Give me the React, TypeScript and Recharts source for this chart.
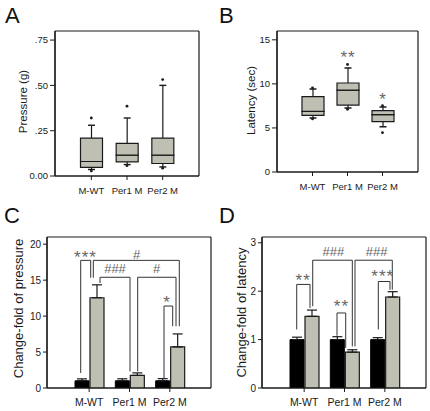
import React from 'react';
import {
  ComposedChart,
  Bar,
  Line,
  XAxis,
  YAxis,
  Scatter,
  ErrorBar,
  ReferenceDot,
  CartesianGrid,
} from 'recharts';

const FONT = '"Liberation Sans", Arial, Helvetica, sans-serif';
const INK = '#1a1a1a';
const GRAY = '#bfc0b3';
const ANNOT = '#666666';
const BRACKET = '#333333';

// ---------- shared categories ----------
const groups = ['M-WT', 'Per1 M', 'Per2 M'];

// ---------- Panel A: pressure box plot ----------
const pressureLowWhisker = [0.036, 0.063, 0.05];
const pressureQ1 = [0.048, 0.078, 0.069];
const pressureMedian = [0.08, 0.115, 0.115];
const pressureQ3 = [0.209, 0.18, 0.209];
const pressureHighWhisker = [0.28, 0.32, 0.5];
const pressureOutliers = [
  [0.32, 0.028],
  [0.385, 0.057],
  [0.532, 0.043],
];
const pressureTicks = [0, 0.25, 0.5, 0.75];

// ---------- Panel B: latency box plot ----------
const latencyLowWhisker = [6.13, 7.26, 5.14];
const latencyQ1 = [6.43, 7.6, 5.71];
const latencyMedian = [6.88, 9.3, 6.5];
const latencyQ3 = [8.55, 10.1, 6.96];
const latencyHighWhisker = [9.42, 11.8, 7.38];
const latencyOutliers = [
  [9.55, 6.02],
  [12.2, 7.12],
  [7.52, 4.46],
];
const latencyTicks = [0, 5, 10, 15];
const latencyStarGroups = ['Per1 M', 'Per2 M'];
const latencyStarHeights = [13.5, 8.7];
const latencyStarLabels = ['**', '*'];

// ---------- Panel C: change-fold of pressure ----------
const pressureFoldCtrl = [1.0, 1.0, 1.0];
const pressureFoldCtrlErr = [0.27, 0.28, 0.3];
const pressureFoldMut = [12.55, 1.75, 5.72];
const pressureFoldMutErr = [1.8, 0.35, 1.8];
const pressureFoldTicks = [0, 5, 10, 15, 20];

// significance brackets: x in group units (0..3), y in data units
const pressureBracketLabels = ['***', '#', '###', '#', '*'];
const pressureBracketX1 = [0.29, 0.603, 0.769, 1.703, 2.356];
const pressureBracketY1 = [2.09, 15.34, 14.6, 2.3, 1.39];
const pressureBracketX2 = [0.538, 2.735, 1.513, 2.653, 2.571];
const pressureBracketY2 = [15.34, 8.59, 2.3, 8.59, 8.59];
const pressureBracketTop = [17.75, 17.75, 15.4, 15.4, 11.4];
const pressureBracketLabelX = [0.397, 1.679, 1.141, 2.175, 2.422];
const pressureBracketLabelY = [18.7, 18.6, 16.6, 16.6, 12.55];

// ---------- Panel D: change-fold of latency ----------
const latencyFoldCtrl = [1.0, 1.0, 1.0];
const latencyFoldCtrlErr = [0.05, 0.06, 0.04];
const latencyFoldMut = [1.48, 0.74, 1.88];
const latencyFoldMutErr = [0.13, 0.05, 0.11];
const latencyFoldTicks = [0, 1, 2, 3];

const latencyBracketLabels = ['**', '###', '**', '###', '***'];
const latencyBracketX1 = [0.315, 0.712, 1.314, 1.76, 2.338];
const latencyBracketY1 = [1.21, 1.69, 1.08, 0.86, 1.21];
const latencyBracketX2 = [0.645, 1.694, 1.53, 2.685, 2.628];
const latencyBracketY2 = [1.655, 0.86, 0.83, 2.03, 2.03];
const latencyBracketTop = [2.14, 2.64, 1.55, 2.64, 2.2];
const latencyBracketLabelX = [0.464, 1.222, 1.413, 2.299, 2.437];
const latencyBracketLabelY = [2.32, 2.83, 1.77, 2.83, 2.39];

// extent of the group-unit axis used for the brackets
const groupUnitExtent = [0, 3];

// ---------- builders ----------
const boxRows = (lo: number[], q1: number[], med: number[], q3: number[], hi: number[]) =>
  groups.map((name, i) => ({
    name,
    base: lo[i],
    lowW: q1[i] - lo[i],
    lowBox: med[i] - q1[i],
    upBox: q3[i] - med[i],
    upW: hi[i] - q3[i],
  }));

const outlierPoints = (outs: number[][]) =>
  groups.flatMap((name, i) => outs[i].map((v) => ({ name, v })));

const foldRows = (ctrl: number[], ctrlErr: number[], mut: number[], mutErr: number[]) =>
  groups.map((name, i) => ({
    name,
    ctrl: ctrl[i],
    ctrlErr: [0, ctrlErr[i]],
    mut: mut[i],
    mutErr: [0, mutErr[i]],
  }));

const bracketList = (
  labels: string[],
  x1: number[],
  y1: number[],
  x2: number[],
  y2: number[],
  top: number[],
  lx: number[],
  ly: number[]
) =>
  labels.map((label, i) => ({
    label,
    path: [
      { u: x1[i], y: y1[i] },
      { u: x1[i], y: top[i] },
      { u: x2[i], y: top[i] },
      { u: x2[i], y: y2[i] },
    ],
    lx: lx[i],
    ly: ly[i],
  }));

const pressureBoxData = boxRows(pressureLowWhisker, pressureQ1, pressureMedian, pressureQ3, pressureHighWhisker);
const latencyBoxData = boxRows(latencyLowWhisker, latencyQ1, latencyMedian, latencyQ3, latencyHighWhisker);
const pressureOutlierData = outlierPoints(pressureOutliers);
const latencyOutlierData = outlierPoints(latencyOutliers);
const pressureFoldData = foldRows(pressureFoldCtrl, pressureFoldCtrlErr, pressureFoldMut, pressureFoldMutErr);
const latencyFoldData = foldRows(latencyFoldCtrl, latencyFoldCtrlErr, latencyFoldMut, latencyFoldMutErr);
const pressureBrackets = bracketList(
  pressureBracketLabels,
  pressureBracketX1,
  pressureBracketY1,
  pressureBracketX2,
  pressureBracketY2,
  pressureBracketTop,
  pressureBracketLabelX,
  pressureBracketLabelY
);
const latencyBrackets = bracketList(
  latencyBracketLabels,
  latencyBracketX1,
  latencyBracketY1,
  latencyBracketX2,
  latencyBracketY2,
  latencyBracketTop,
  latencyBracketLabelX,
  latencyBracketLabelY
);
const latencyStars = latencyStarGroups.map((g, i) => ({ x: g, y: latencyStarHeights[i], label: latencyStarLabels[i] }));
const extentAnchor = groupUnitExtent.map((u) => ({ u, y: 0 }));

// ---------- shapes ----------
const CAP = 3.5;

const LowerWhisker = (p: any) => {
  if (p.x == null || p.y == null) return null;
  const cx = p.x + p.width / 2;
  const yb = p.y + p.height;
  return (
    <g>
      <line x1={cx} x2={cx} y1={p.y} y2={yb} stroke={INK} strokeWidth={1.2} />
      <line x1={cx - CAP} x2={cx + CAP} y1={yb} y2={yb} stroke={INK} strokeWidth={1.4} />
    </g>
  );
};

const UpperWhisker = (p: any) => {
  if (p.x == null || p.y == null) return null;
  const cx = p.x + p.width / 2;
  const yb = p.y + p.height;
  return (
    <g>
      <line x1={cx} x2={cx} y1={p.y} y2={yb} stroke={INK} strokeWidth={1.2} />
      <line x1={cx - CAP} x2={cx + CAP} y1={p.y} y2={p.y} stroke={INK} strokeWidth={1.4} />
    </g>
  );
};

const OutlierDot = (p: any) => {
  if (p.cx == null || p.cy == null) return null;
  return <circle cx={p.cx} cy={p.cy} r={1.4} fill={INK} />;
};

const annotText = (text: string) => (p: any) => {
  if (p.cx == null || p.cy == null) return null;
  const isStar = text.indexOf('*') >= 0;
  const fs = isStar ? 17 : 13;
  const baseline = p.cy + (isStar ? 0.58 : 0.36) * fs;
  return (
    <text
      x={p.cx + (isStar ? 0.5 : 0)}
      y={baseline}
      textAnchor="middle"
      fontFamily={FONT}
      fontSize={fs}
      fill={ANNOT}
      letterSpacing={isStar ? 1 : 0}
    >
      {text}
    </text>
  );
};

const yTitle = (text: string, cx: number, fs: number, shift: number) => (props: any) => {
  const vb = props && props.viewBox ? props.viewBox : null;
  const cy = (vb ? vb.y + vb.height / 2 : 100) + shift;
  return (
    <text
      x={cx}
      y={cy}
      transform={`rotate(-90 ${cx} ${cy})`}
      textAnchor="middle"
      dominantBaseline="central"
      fontFamily={FONT}
      fontSize={fs}
      fill={INK}
    >
      {text}
    </text>
  );
};

const fmtPressure = (v: number) => (v === 0 ? '0.00' : v.toFixed(2).replace(/^0/, ''));

// frame: grid lines placed exactly on the plot-area edges
const frameV = (a: any) => {
  const o = a && a.offset ? a.offset : null;
  return o ? [o.left, o.left + o.width] : [];
};
const frameH = (a: any) => {
  const o = a && a.offset ? a.offset : null;
  return o ? [o.top, o.top + o.height] : [];
};
const frame = () => (
  <CartesianGrid
    stroke={INK}
    strokeWidth={1.2}
    strokeDasharray=""
    verticalCoordinatesGenerator={frameV}
    horizontalCoordinatesGenerator={frameH}
  />
);

const panelLetter = (letter: string, left: number, top: number) => (
  <div
    style={{
      position: 'absolute',
      left,
      top,
      fontFamily: FONT,
      fontSize: 22,
      lineHeight: '22px',
      color: '#111',
    }}
  >
    {letter}
  </div>
);

const BoxPanel = (props: {
  data: any[];
  outliers: any[];
  domain: [number, number];
  ticks: number[];
  fmt?: (v: number) => string;
  margin: any;
  yWidth: number;
  xHeight: number;
  pad: number;
  title: any;
  stars?: any[];
}) => (
  <ComposedChart width={215} height={200} data={props.data} margin={props.margin} barCategoryGap={0}>
    {frame()}
    <XAxis
      dataKey="name"
      allowDuplicatedCategory={false}
      padding={{ left: props.pad, right: props.pad }}
      height={props.xHeight}
      tickSize={4}
      tickMargin={7}
      tick={{ fontSize: 9.5, fill: INK, fontFamily: FONT }}
      stroke={INK}
      axisLine={{ stroke: INK, strokeWidth: 1.2 }}
    />
    <YAxis
      type="number"
      domain={props.domain}
      ticks={props.ticks}
      tickFormatter={props.fmt}
      width={props.yWidth}
      tickSize={5}
      tickMargin={2}
      tick={{ fontSize: 9.5, fill: INK, fontFamily: FONT }}
      stroke={INK}
      axisLine={{ stroke: INK, strokeWidth: 1.2 }}
      label={props.title}
      allowDataOverflow
    />
    <Bar dataKey="base" stackId="box" barSize={22} fill="transparent" isAnimationActive={false} />
    <Bar dataKey="lowW" stackId="box" barSize={22} shape={LowerWhisker} isAnimationActive={false} />
    <Bar dataKey="lowBox" stackId="box" barSize={22} fill={GRAY} stroke={INK} strokeWidth={1.2} isAnimationActive={false} />
    <Bar dataKey="upBox" stackId="box" barSize={22} fill={GRAY} stroke={INK} strokeWidth={1.2} isAnimationActive={false} />
    <Bar dataKey="upW" stackId="box" barSize={22} shape={UpperWhisker} isAnimationActive={false} />
    <Scatter data={props.outliers} dataKey="v" shape={OutlierDot} isAnimationActive={false} />
    {(props.stars || []).map((s: any) => (
      <ReferenceDot key={s.x} x={s.x} y={s.y} r={0} ifOverflow="visible" shape={annotText(s.label)} />
    ))}
  </ComposedChart>
);

const FoldPanel = (props: {
  data: any[];
  domain: [number, number];
  ticks: number[];
  brackets: any[];
  title: any;
}) => (
  <ComposedChart
    width={215}
    height={211}
    data={props.data}
    margin={{ top: 37, right: 4, left: 0, bottom: 0 }}
    barGap={1}
  >
    {frame()}
    <XAxis
      dataKey="name"
      allowDuplicatedCategory={false}
      padding={{ left: 22, right: 21 }}
      height={23}
      tickSize={4}
      tickMargin={7}
      tick={{ fontSize: 10.5, fill: INK, fontFamily: FONT }}
      stroke={INK}
      axisLine={{ stroke: INK, strokeWidth: 1.2 }}
    />
    <XAxis
      xAxisId="n"
      dataKey="u"
      type="number"
      domain={groupUnitExtent as [number, number]}
      padding={{ left: 22, right: 21 }}
      hide
      allowDataOverflow
    />
    <YAxis
      type="number"
      domain={props.domain}
      ticks={props.ticks}
      width={47}
      tickSize={4}
      tickMargin={2}
      tick={{ fontSize: 10, fill: INK, fontFamily: FONT }}
      stroke={INK}
      axisLine={{ stroke: INK, strokeWidth: 1.2 }}
      label={props.title}
      allowDataOverflow
    />
    <Bar dataKey="ctrl" barSize={14} fill="#000" stroke="#000" isAnimationActive={false}>
      <ErrorBar dataKey="ctrlErr" direction="y" width={5} stroke={INK} strokeWidth={1.2} />
    </Bar>
    <Bar dataKey="mut" barSize={14} fill={GRAY} stroke={INK} strokeWidth={1.2} isAnimationActive={false}>
      <ErrorBar dataKey="mutErr" direction="y" width={5} stroke={INK} strokeWidth={1.2} />
    </Bar>
    <Line
      xAxisId="n"
      data={extentAnchor}
      dataKey="y"
      stroke="none"
      dot={false}
      activeDot={false}
      isAnimationActive={false}
    />
    {props.brackets.map((b: any, i: number) => (
      <Line
        key={`b${i}`}
        xAxisId="n"
        data={b.path}
        dataKey="y"
        type="linear"
        stroke={BRACKET}
        strokeWidth={1}
        dot={false}
        activeDot={false}
        isAnimationActive={false}
      />
    ))}
    {props.brackets.map((b: any, i: number) => (
      <ReferenceDot
        key={`d${i}`}
        xAxisId="n"
        x={b.lx}
        y={b.ly}
        r={0}
        ifOverflow="visible"
        shape={annotText(b.label)}
      />
    ))}
  </ComposedChart>
);

export default function App() {
  return (
    <div
      style={{
        position: 'absolute',
        left: 0,
        top: 0,
        width: 430,
        height: 411,
        background: '#fff',
        overflow: 'hidden',
      }}
    >
      <div style={{ position: 'absolute', left: 0, top: 0 }}>
        <BoxPanel
          data={pressureBoxData}
          outliers={pressureOutlierData}
          domain={[0, 0.8]}
          ticks={pressureTicks}
          fmt={fmtPressure}
          margin={{ top: 31, right: 16, left: 0, bottom: 0 }}
          yWidth={55}
          xHeight={24}
          pad={18.5}
          title={yTitle('Pressure (g)', 23, 11.5, -2)}
        />
      </div>
      <div style={{ position: 'absolute', left: 215, top: 0 }}>
        <BoxPanel
          data={latencyBoxData}
          outliers={latencyOutlierData}
          domain={[0, 16]}
          ticks={latencyTicks}
          margin={{ top: 31, right: 12, left: 0, bottom: 0 }}
          yWidth={62}
          xHeight={28}
          pad={18}
          title={yTitle('Latency (sec)', 36, 11.5, -1)}
          stars={latencyStars}
        />
      </div>
      <div style={{ position: 'absolute', left: 0, top: 200 }}>
        <FoldPanel
          data={pressureFoldData}
          domain={[0, 21]}
          ticks={pressureFoldTicks}
          brackets={pressureBrackets}
          title={yTitle('Change-fold of pressure', 18.5, 13, -4)}
        />
      </div>
      <div style={{ position: 'absolute', left: 215, top: 200 }}>
        <FoldPanel
          data={latencyFoldData}
          domain={[0, 3.12]}
          ticks={latencyFoldTicks}
          brackets={latencyBrackets}
          title={yTitle('Change-fold of latency', 26, 13, 0)}
        />
      </div>
      {panelLetter('A', 5, 5)}
      {panelLetter('B', 219, 5)}
      {panelLetter('C', 4, 205)}
      {panelLetter('D', 219, 205)}
    </div>
  );
}
